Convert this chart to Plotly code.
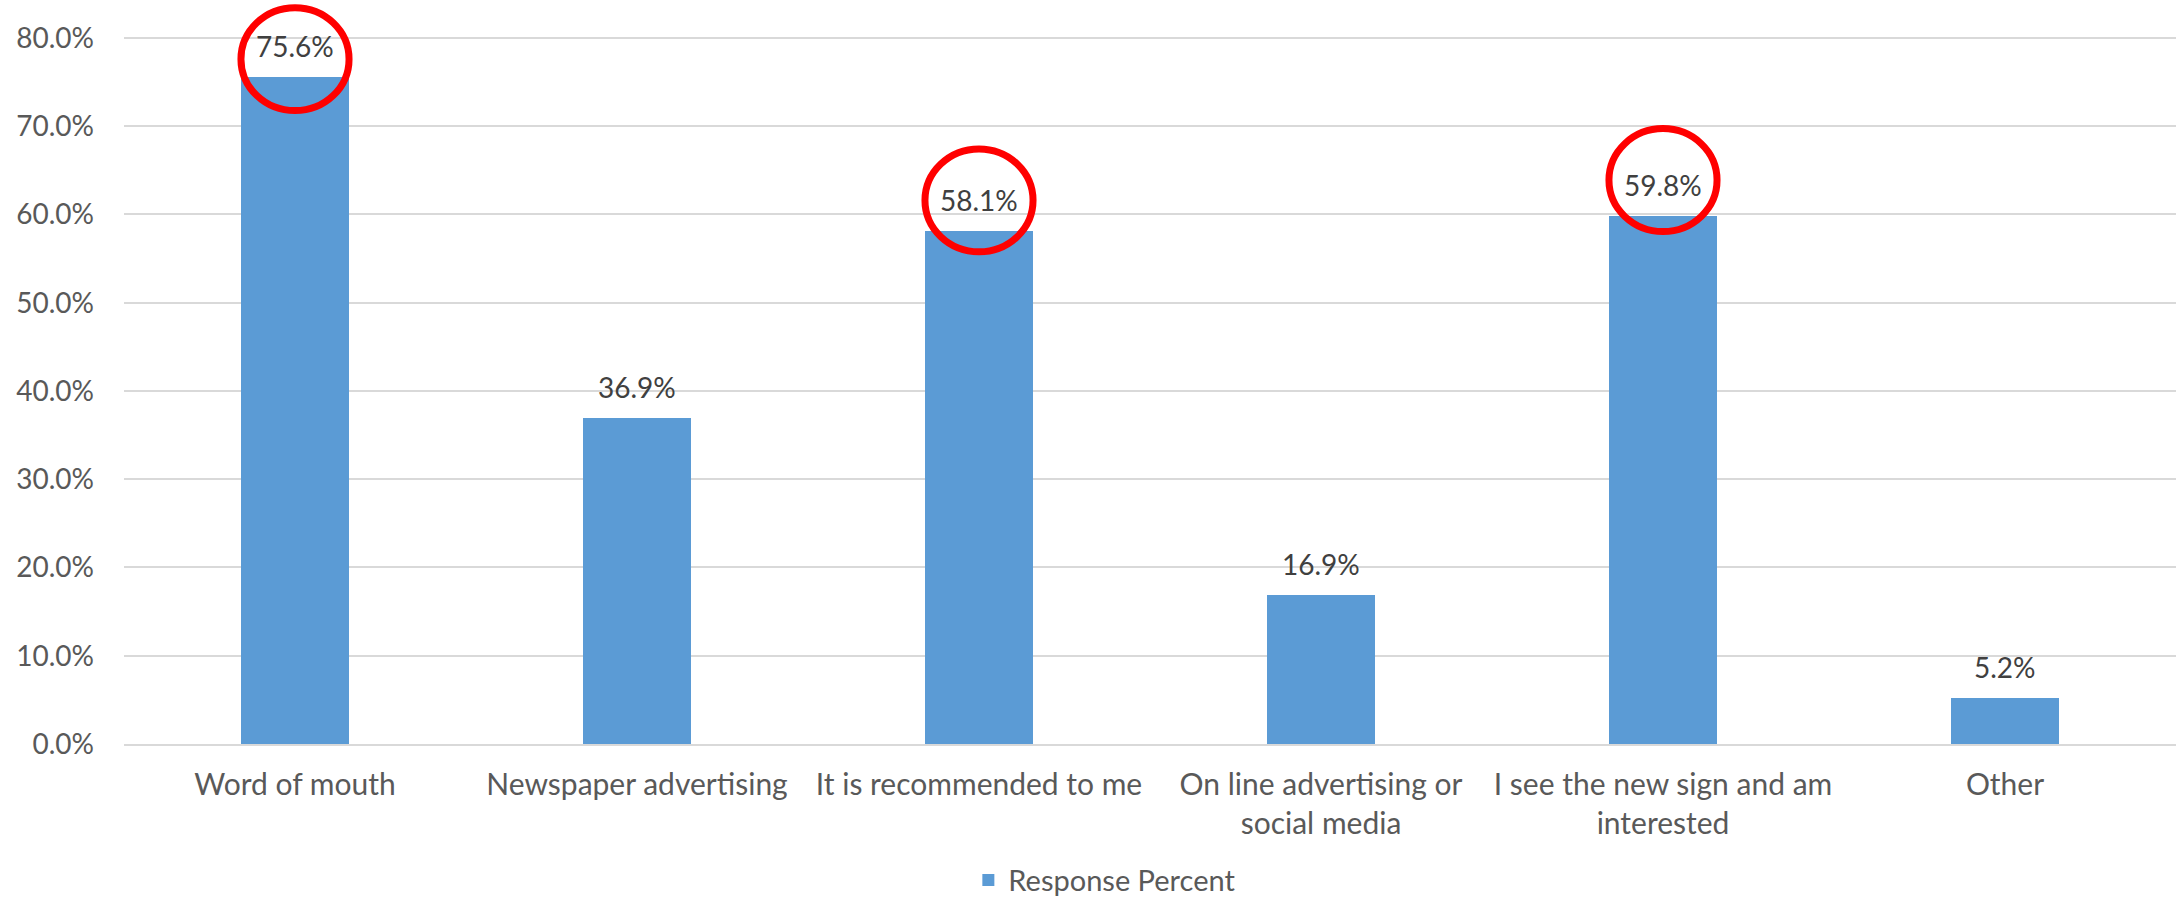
import plotly.graph_objects as go

categories = ["Word of mouth", "Newspaper advertising", "It is recommended to me",
              "On line advertising or<br>social media", "I see the new sign and am<br>interested", "Other"]
values = [75.6, 36.9, 58.1, 16.9, 59.8, 5.2]
series_name = "Response Percent"
y_ticks = [0, 10, 20, 30, 40, 50, 60, 70, 80]
y_tick_labels = [f"{v:.1f}%" for v in y_ticks]

# highlighted (circled) categories: index and circle centre (in % units)
circled_idx = [0, 2, 4]
circle_centre = [77.6, 61.6, 63.9]

FONT = "Lato"
BAR = "#5B9BD5"
AX = "#595959"

fig = go.Figure()
fig.add_trace(go.Bar(
    x=list(range(len(categories))), y=values, name=series_name,
    marker=dict(color=BAR, line=dict(width=0)),
    width=0.313, showlegend=True,
))

for i, v in enumerate(values):
    fig.add_annotation(x=i, y=v, xref="x", yref="y", text=f"{v:.1f}%",
                       showarrow=False, yanchor="middle", yshift=31,
                       font=dict(family=FONT, size=28, color="#404040"))

for i, c in zip(circled_idx, circle_centre):
    fig.add_shape(type="circle", xref="x", yref="y",
                  x0=i - 0.158, x1=i + 0.158, y0=c - 5.83, y1=c + 5.83,
                  line=dict(color="#FF0000", width=7), layer="above")

fig.update_layout(
    width=2178, height=902,
    margin=dict(l=124, r=2, t=0, b=158, autoexpand=False),
    paper_bgcolor="white", plot_bgcolor="white",
    font=dict(family=FONT, size=29, color=AX),
    bargap=0,
    legend=dict(orientation="h", x=0.478, xanchor="center", y=-0.183, yanchor="middle",
                font=dict(family=FONT, size=29, color=AX), itemwidth=30,
                bgcolor="rgba(0,0,0,0)"),
)
fig.update_xaxes(
    tickmode="array", tickvals=list(range(len(categories))), ticktext=categories,
    range=[-0.5, len(categories) - 0.5],
    showgrid=False, showline=True, linecolor="#D9D9D9", linewidth=2,
    ticks="", ticklabelstandoff=13, zeroline=False,
    tickfont=dict(family=FONT, size=30, color=AX),
)
fig.update_yaxes(
    range=[0, 84.3], tickmode="array", tickvals=y_ticks, ticktext=y_tick_labels,
    showgrid=True, gridcolor="#D9D9D9", gridwidth=2, zeroline=False,
    showline=False, ticks="", ticklabelstandoff=29,
    tickfont=dict(family=FONT, size=28, color=AX),
)

fig.write_html("out.html", config={"displayModeBar": False},
               post_script="document.body.style.margin='0';")
